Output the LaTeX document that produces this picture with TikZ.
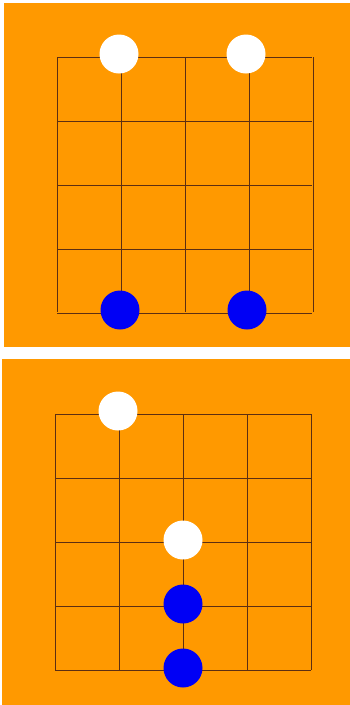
\documentclass[tikz,border=0pt]{standalone}
\usepackage{xcolor}
\usepackage{tikz}
\usetikzlibrary{calc,positioning}
\definecolor{boardorange}{HTML}{FF9900}
\definecolor{gridbrown}{HTML}{5C2E12}
\definecolor{stoneblue}{HTML}{0000F5}

\begin{document}
\begin{tikzpicture}[
  x=1pt, y=-1pt,
  board/.style={fill=boardorange, draw=none},
  gridline/.style={draw=gridbrown, line width=0.9pt},
  stone/.style={circle, minimum size=39pt, inner sep=0pt, draw=none},
  whitestone/.style={stone, fill=white},
  bluestone/.style={stone, fill=stoneblue},
]
\useasboundingbox (0,0) rectangle (350,705);

% top board
\fill[board] (4,3) rectangle (350,347);
\foreach \k in {0,...,4} {
  \draw[gridline] ($(57,57)+(64*\k,0)$) -- ++(0,255);
  \draw[gridline] ($(57,57)+(0,64*\k)$) -- ++(255,0);
}
\node[whitestone] (w1) at (119,54) {};
\node[whitestone] (w2) at (246,54) {};
\node[bluestone] (b1) at (120,310) {};
\node[bluestone] (b2) at (247,310) {};

% bottom board
\fill[board] (2,359) rectangle (350,705);
\foreach \k in {0,...,4} {
  \draw[gridline] ($(55,414)+(64*\k,0)$) -- ++(0,256);
  \draw[gridline] ($(55,414)+(0,64*\k)$) -- ++(256,0);
}
\node[whitestone] (w3) at (118,411) {};
\node[whitestone] (w4) at (183,540) {};
\node[bluestone] (b3) at (183,604) {};
\node[bluestone] (b4) at (183,668) {};

\end{tikzpicture}
\end{document}
